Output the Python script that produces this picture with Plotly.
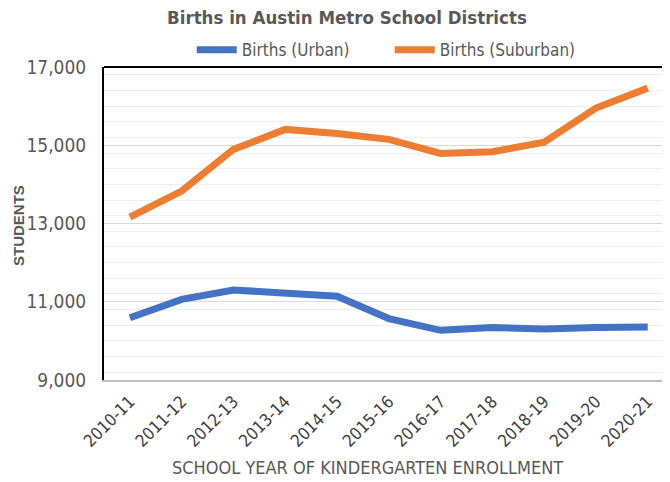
import plotly.graph_objects as go

# School years (x categories)
years = [
    "2010-11", "2011-12", "2012-13", "2013-14", "2014-15", "2015-16",
    "2016-17", "2017-18", "2018-19", "2019-20", "2020-21",
]

# Births
births_urban = [10590, 11060, 11300, 11225, 11140, 10570, 10270, 10340, 10305, 10345, 10355]
births_suburban = [13160, 13830, 14895, 15405, 15300, 15150, 14790, 14835, 15080, 15950, 16460]

y_ticks = [9000, 11000, 13000, 15000, 17000]

FONT = "DejaVu Sans Condensed, Liberation Sans Narrow, Arial Narrow, sans-serif"
GREY = "#595959"

fig = go.Figure()
fig.add_trace(go.Scatter(
    x=years, y=births_urban, mode="lines", name="Births (Urban)",
    line=dict(color="#4472C4", width=7),
))
fig.add_trace(go.Scatter(
    x=years, y=births_suburban, mode="lines", name="Births (Suburban)",
    line=dict(color="#ED7D31", width=7),
))

# the page body keeps its default 8px margin, so the figure is 8px smaller
fig.update_layout(
    width=662,
    height=474,
    margin=dict(l=96, r=0, t=59, b=102, autoexpand=False),
    paper_bgcolor="white",
    plot_bgcolor="white",
    font=dict(family=FONT, color=GREY, size=14),
    title=dict(
        text="<b>Births in Austin Metro School Districts</b>",
        x=0.512, xanchor="center", y=0.979, yanchor="middle",
        font=dict(family=FONT, size=18.5, color=GREY),
    ),
    legend=dict(
        orientation="h", x=0.155, xanchor="left", y=1.054, yanchor="middle",
        font=dict(family=FONT, size=17, color=GREY),
        bgcolor="rgba(0,0,0,0)",
        itemwidth=40,
        entrywidth=143,
    ),
    xaxis=dict(
        type="category",
        range=[-0.5, 10.43],
        automargin=False,
        tickangle=-45,
        tickfont=dict(family=FONT, size=17, color="#404040"),
        showgrid=False,
        showline=True, linecolor="#bfbfbf", linewidth=2,
        ticks="",
        ticklabelstandoff=3,
    ),
    yaxis=dict(
        range=[9000, 17000],
        automargin=False,
        tickvals=y_ticks,
        tickformat=",d",
        tickfont=dict(family=FONT, size=19, color=GREY),
        gridcolor="#d9d9d9", gridwidth=1,
        minor=dict(dtick=400, showgrid=True, gridcolor="#efefef", gridwidth=1),
        showline=True, linecolor="black", linewidth=2,
        zeroline=False,
        ticks="",
        ticklabelstandoff=12,
    ),
    annotations=[
        dict(
            text="SCHOOL YEAR OF KINDERGARTEN ENROLLMENT",
            xref="paper", yref="paper", x=0.465, y=-0.278,
            xanchor="center", yanchor="middle", showarrow=False,
            font=dict(family=FONT, size=18, color=GREY),
        ),
        dict(
            text="<b>STUDENTS</b>",
            xref="paper", yref="paper", x=-0.152, y=0.495,
            xanchor="center", yanchor="middle", showarrow=False, textangle=-90,
            font=dict(family="Liberation Sans, Arial, sans-serif", size=15, color=GREY),
        ),
    ],
)

# top border of the plot area
fig.add_shape(
    type="line", xref="paper", yref="paper", x0=0, x1=1, y0=1, y1=1,
    line=dict(color="black", width=2),
)

fig.write_html("out.html")
